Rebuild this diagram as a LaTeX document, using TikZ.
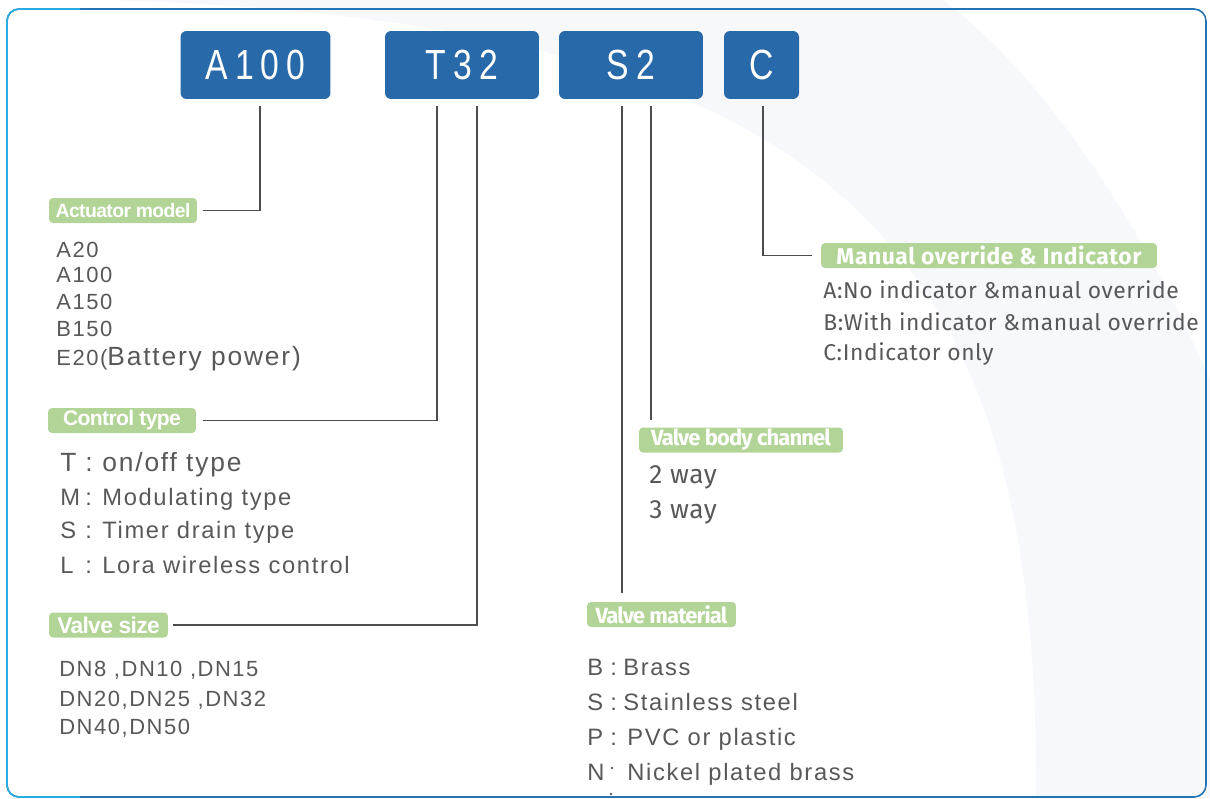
\documentclass[tikz,border=0pt]{standalone}
\usepackage{fontspec}
\setmainfont{Liberation Sans}
\newfontfamily\codefont[FakeStretch=0.8,LetterSpace=17]{Liberation Sans}
\newfontfamily\tagfont[LetterSpace=-3]{Liberation Sans}
\newfontfamily\itemfont[LetterSpace=7]{Liberation Sans}
\newfontfamily\humfont[LetterSpace=2.5]{Fira Sans}
\newfontfamily\humtagfont[LetterSpace=-4]{Fira Sans}

\definecolor{codeblue}{HTML}{2869AA}
\definecolor{taggreen}{HTML}{B2D597}
\definecolor{textgray}{HTML}{58585A}
\definecolor{linegray}{HTML}{4D4D4D}
\definecolor{frameblue}{HTML}{2474B5}
\definecolor{framecyan}{HTML}{2AACE2}
\definecolor{bggray}{HTML}{F6F8FB}

% letter, colon, then the text
\newcommand{\ctl}[2]{\makebox[0.84cm][l]{\makebox[0.5cm][l]{#1}:}#2}
\newcommand{\mat}[3]{\makebox[#3][l]{\makebox[0.46cm][l]{#1}:}#2}

\begin{document}
\begin{tikzpicture}[
		x=0.02cm, y=-0.02cm,
		code/.style= {
				fill=codeblue,
				rounded corners=0.12cm,
				minimum height=1.36cm,
				inner sep=0pt,
				text=white,
				font=\codefont\fontsize{24}{24}\selectfont
			},
		tag/.style= {
				fill=taggreen,
				rounded corners=0.08cm,
				minimum height=0.5cm,
				inner sep=0pt,
				text=white
			},
		item/.style= {
				anchor=base west,
				inner sep=0pt,
				text=textgray,
				font=\itemfont\fontsize{12.5}{15}\selectfont
			},
		hum/.style= {
				item,
				font=\humfont\fontsize{13}{15}\selectfont
			},
		link/.style= {
				draw=linegray,
				line width=0.8pt
			}
	]

	\useasboundingbox (0,0) rectangle (1210,798);
	% background band and frame
	\fill[bggray] (105,0) .. controls (850,20) and (1040,260) .. (1036,798) -- (1210,798) -- (1210,380) .. controls (1150,240) and (1050,80) .. (943,0) -- cycle;
	\draw[frameblue, line width=0.9pt, rounded corners=0.24cm] (7,9) rectangle (1206,797);
	\draw[framecyan, line width=0.9pt, rounded corners=0.24cm] (80,9) -- (7,9) -- (7,797) -- (80,797);

	% code boxes
	\node[code, minimum width=3cm] (model) at (255.5,65) {A100};
	\node[code, minimum width=3.08cm] (control) at (462,65) {T32};
	\node[code, minimum width=2.88cm] (body) at (631,65) {S2};
	\node[code, minimum width=1.5cm] (override) at (761.5,65) {C};

	% labels
	\node[tag, minimum width=2.96cm, font=\tagfont\bfseries\fontsize{11}{11}\selectfont] (tagmodel) at (123,210.5) {Actuator model};
	\node[tag, minimum width=2.96cm, font=\tagfont\bfseries\fontsize{12}{12}\selectfont] (tagcontrol) at (122,420.5) {Control type};
	\node[tag, minimum width=2.38cm, font=\tagfont\bfseries\fontsize{13}{13}\selectfont] (tagsize) at (108.5,625) {Valve size};
	\node[tag, minimum width=2.98cm, font=\humtagfont\bfseries\fontsize{12.5}{12.5}\selectfont] (tagmaterial) at (661.5,614.5) {Valve material};
	\node[tag, minimum width=4.08cm, font=\humtagfont\bfseries\fontsize{12.5}{12.5}\selectfont] (tagchannel) at (741,440) {Valve body channel};
	\node[tag, minimum width=6.72cm, font=\humfont\bfseries\fontsize{13}{13}\selectfont] (tagoverride) at (989,255.5) {Manual override \& Indicator};

	% connectors
	\draw[link, shorten <=0.14cm, shorten >=0.12cm] ([xshift=0.09cm]model.south) |- (tagmodel.east);
	\draw[link, shorten <=0.14cm, shorten >=0.14cm] ([xshift=-0.5cm]control.south) |- (tagcontrol.east);
	\draw[link, shorten <=0.14cm, shorten >=0.1cm] ([xshift=0.3cm]control.south) |- (tagsize.east);
	\draw[link, shorten <=0.14cm, shorten >=0.18cm] ([xshift=-0.18cm]body.south) -- ([xshift=-0.18cm]body.south |- tagmaterial.north);
	\draw[link, shorten <=0.14cm, shorten >=0.14cm] ([xshift=0.4cm]body.south) -- ([xshift=0.4cm]body.south |- tagchannel.north);
	\draw[link, shorten <=0.14cm, shorten >=0.18cm] ([xshift=0.03cm]override.south) |- (tagoverride.west);

	% actuator models
	\node[item] (m1) at (56,257) {A20};
	\node[item] (m2) at (56,282) {A100};
	\node[item] (m3) at (56,309) {A150};
	\node[item] (m4) at (56,336) {B150};
	\node[item] (m5) at (56,365) {E20({\fontsize{15}{16}\selectfont Battery power)}};

	% control types
	\node[item, font=\itemfont\fontsize{15}{16}\selectfont] (c1) at (60,471) {\ctl{T}{on/off type}};
	\node[item, font=\itemfont\fontsize{13.5}{16}\selectfont] (c2) at (60,505) {\ctl{M}{Modulating type}};
	\node[item, font=\itemfont\fontsize{13.5}{16}\selectfont] (c3) at (60,538) {\ctl{S}{Timer drain type}};
	\node[item, font=\itemfont\fontsize{13.5}{16}\selectfont] (c4) at (60,573) {\ctl{L}{Lora wireless control}};

	% valve sizes
	\node[item] (s1) at (59,676) {DN8 ,DN10 ,DN15};
	\node[item] (s2) at (59,706) {DN20,DN25 ,DN32};
	\node[item] (s3) at (59,734) {DN40,DN50};

	% valve materials
	\node[item, font=\itemfont\fontsize{13.5}{15}\selectfont] (v1) at (587,675) {\mat{B}{Brass}{0.72cm}};
	\node[item, font=\itemfont\fontsize{13.5}{15}\selectfont] (v2) at (587,710) {\mat{S}{Stainless steel}{0.72cm}};
	\node[item, font=\itemfont\fontsize{13.5}{15}\selectfont] (v3) at (587,745) {\mat{P}{PVC or plastic}{0.8cm}};
	\node[item, font=\itemfont\fontsize{13.5}{15}\selectfont] (v4) at (587,780) {\makebox[0.8cm][l]{N}Nickel plated brass};
	\fill[textgray] (612,768) circle (1.4);
	\fill[textgray] (611,794) circle (1.4);

	% body channels
	\node[hum, font=\humfont\fontsize{15}{16}\selectfont] (w1) at (649,483) {2 way};
	\node[hum, font=\humfont\fontsize{15}{16}\selectfont] (w2) at (649,518) {3 way};

	% manual override options
	\node[hum] (o1) at (823,298) {A:No indicator \&manual override};
	\node[hum] (o2) at (823,330) {B:With indicator \&manual override};
	\node[hum] (o3) at (823,360) {C:Indicator only};
\end{tikzpicture}
\end{document}
